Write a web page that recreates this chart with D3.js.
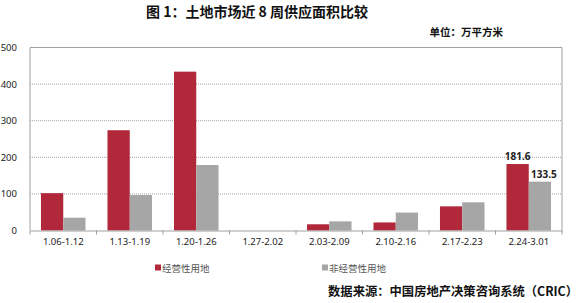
<!DOCTYPE html>
<html>
<head>
<meta charset="utf-8">
<script src="https://cdn.jsdelivr.net/npm/d3@7"></script>
<style>
  body { margin: 0; background: #fff; }
  text { font-family: "Noto Sans CJK SC", "Noto Sans", sans-serif; }
</style>
</head>
<body>
<div id="chart"></div>
<script>
var weeks = ['1.06-1.12', '1.13-1.19', '1.20-1.26', '1.27-2.02', '2.03-2.09', '2.10-2.16', '2.17-2.23', '2.24-3.01'];
var commercial = [102, 274, 434, 0, 17, 22, 66, 181.6];
var nonCommercial = [35, 97, 179, 0, 25, 49, 77, 133.5];
var seriesNames = ['经营性用地', '非经营性用地'];
var yTicks = [0, 100, 200, 300, 400, 500];

function drawBarChart(){
    var width = 581, height = 303;
    var left = 30, right = 562, top = 47.5, bottom = 230.5;
    var colors = ['#b0283a', '#a6a6a6'];
    var latin = '"Noto Sans", sans-serif';

    var svg = d3.select('#chart')
        .append('svg')
        .attr('width', width)
        .attr('height', height);

    var x = d3.scaleBand()
        .domain(weeks)
        .range([left, right])
        .paddingInner(0.33)
        .paddingOuter(0.165);

    var xSub = d3.scaleBand()
        .domain([0, 1])
        .range([0, x.bandwidth()]);

    var y = d3.scaleLinear()
        .domain([0, 500])
        .range([bottom, top]);

    // grid lines
    svg.selectAll('.grid')
        .data(yTicks.filter(function(d){ return d > 0 && d < 500; }))
        .enter()
        .append('line')
        .attr('x1', left).attr('x2', right)
        .attr('y1', function(d){ return y(d); })
        .attr('y2', function(d){ return y(d); })
        .attr('stroke', '#a0a0a0')
        .attr('stroke-width', 1)
        .attr('stroke-dasharray', '1,1');

    // frame: top, left, right
    svg.append('path')
        .attr('d', 'M' + left + ',' + bottom + 'V' + top + 'H' + right + 'V' + bottom)
        .attr('fill', 'none')
        .attr('stroke', '#a0a0a0');

    // y labels
    svg.selectAll('.ylab')
        .data(yTicks)
        .enter()
        .append('text')
        .attr('x', 17)
        .attr('y', function(d){ return y(d) + 3.5; })
        .attr('text-anchor', 'end')
        .attr('font-size', 9.5)
        .attr('fill', '#222')
        .style('font-family', latin)
        .text(function(d){ return d; });

    // bars
    var table = weeks.map(function(w, i){ return {week: w, vals: [commercial[i], nonCommercial[i]]}; });
    var groups = svg.selectAll('.grp')
        .data(table)
        .enter()
        .append('g')
        .attr('transform', function(d){ return 'translate(' + x(d.week) + ',0)'; });

    groups.selectAll('rect')
        .data(function(d){ return d.vals; })
        .enter()
        .append('rect')
        .attr('x', function(d, i){ return xSub(i); })
        .attr('width', xSub.bandwidth())
        .attr('y', function(d){ return y(d); })
        .attr('height', function(d){ return y(0) - y(d); })
        .attr('fill', function(d, i){ return colors[i]; });

    // x axis
    var xAxis = d3.axisBottom(x).tickSize(0).tickPadding(8);
    var ax = svg.append('g')
        .attr('transform', 'translate(0,' + bottom + ')')
        .call(xAxis);
    ax.select('.domain').attr('stroke', '#a0a0a0');
    ax.selectAll('text').attr('font-size', 9.5).attr('fill', '#222')
        .style('font-family', latin);
    var bounds = d3.range(weeks.length + 1).map(function(i){ return left + i * x.step(); });
    ax.selectAll('.bnd')
        .data(bounds)
        .enter()
        .append('line')
        .attr('x1', function(d){ return d; })
        .attr('x2', function(d){ return d; })
        .attr('y1', 0).attr('y2', 4)
        .attr('stroke', '#a0a0a0');

    // value labels on last group
    var last = weeks.length - 1;
    [commercial[last], nonCommercial[last]].forEach(function(v, i){
        svg.append('text')
            .attr('x', x(weeks[last]) + xSub(i) + xSub.bandwidth() / 2 + (i === 1 ? 4 : 0))
            .attr('y', y(v) - 4)
            .attr('text-anchor', 'middle')
            .attr('font-size', 10)
            .attr('font-weight', 'bold')
            .attr('fill', '#222')
            .style('font-family', latin)
            .text(v);
    });

    // title
    svg.append('text')
        .attr('x', 257).attr('y', 17)
        .attr('text-anchor', 'middle')
        .attr('font-size', 14)
        .attr('font-weight', 'bold')
        .attr('fill', '#111')
        .text('图 1：土地市场近 8 周供应面积比较');

    svg.append('text')
        .attr('x', 503).attr('y', 36)
        .attr('text-anchor', 'end')
        .attr('font-size', 10.5)
        .attr('font-weight', 'bold')
        .attr('fill', '#111')
        .text('单位：万平方米');

    // legend
    var legX = [155, 322];
    seriesNames.forEach(function(name, i){
        svg.append('rect')
            .attr('x', legX[i]).attr('y', 264.5)
            .attr('width', 6).attr('height', 6)
            .attr('fill', colors[i]);
        svg.append('text')
            .attr('x', legX[i] + 7).attr('y', 271.5)
            .attr('font-size', 9.5)
            .attr('fill', '#555')
            .text(name);
    });

    svg.append('text')
        .attr('x', 578).attr('y', 296)
        .attr('text-anchor', 'end')
        .attr('font-size', 12.3)
        .attr('font-weight', 'bold')
        .attr('fill', '#111')
        .text('数据来源：中国房地产决策咨询系统（CRIC）');
}

drawBarChart();
</script>
</body>
</html>
